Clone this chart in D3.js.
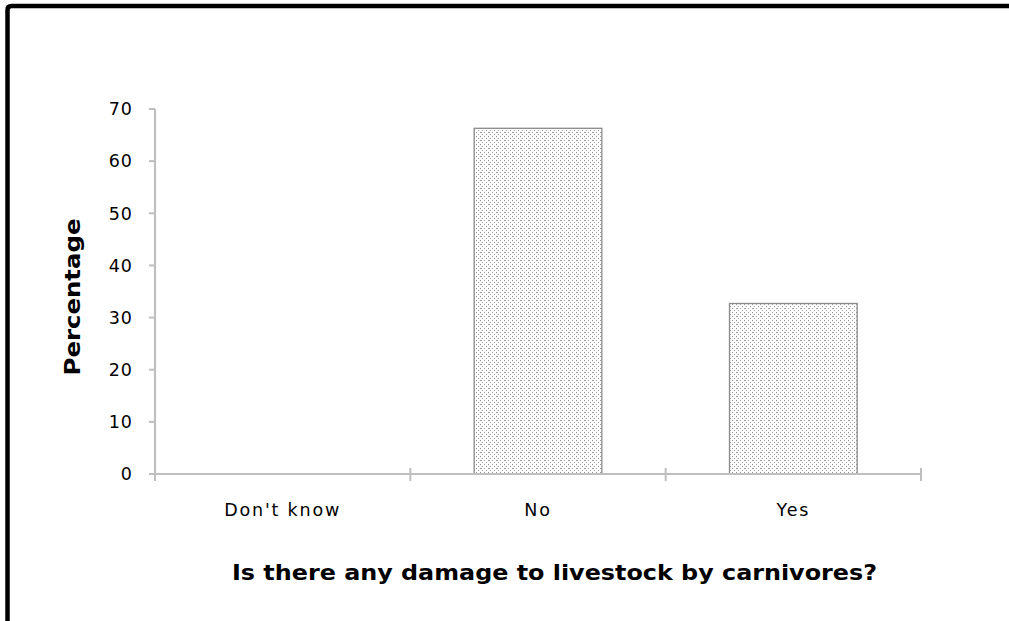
<!DOCTYPE html>
<html>
<head>
<meta charset="utf-8">
<script src="https://cdn.jsdelivr.net/npm/d3@7"></script>
<style>
  html, body { margin: 0; padding: 0; background: #fff; }
  svg { display: block; }
</style>
</head>
<body>
<svg id="chart" width="1009" height="621"></svg>
<script>
// Survey responses
const categories = ["Don't know", "No", "Yes"];
const percentages = [0, 66.3, 32.7];
const yTicks = [0, 10, 20, 30, 40, 50, 60, 70];
const xTitle = "Is there any damage to livestock by carnivores?";
const yTitle = "Percentage";

const svg = d3.select("#chart");
const axisColor = "#bfbfbf";
const font = "DejaVu Sans, Verdana, sans-serif";

// Outer frame: heavy black line along the top and left edges
svg.append("path")
  .attr("d", "M7.5,625 L7.5,10 Q7.5,6 11.5,6 L1020,6")
  .attr("fill", "none")
  .attr("stroke", "#000")
  .attr("stroke-width", 4.5);

// Stipple fill for the bars
const defs = svg.append("defs");
const pat = defs.append("pattern")
  .attr("id", "stipple")
  .attr("patternUnits", "userSpaceOnUse")
  .attr("width", 8).attr("height", 8);
pat.append("rect").attr("width", 8).attr("height", 8).attr("fill", "#fff");
const dots = [[0,0],[4,0],[2,2],[6,2],[0,4],[1,4],[4,4],[6,6],[2,6]];
dots.forEach(([dx, dy]) => {
  pat.append("rect").attr("x", dx).attr("y", dy).attr("width", 1).attr("height", 1).attr("fill", "#999");
});

const x = d3.scaleBand()
  .domain(categories)
  .range([155, 921])
  .paddingInner(0.5)
  .paddingOuter(0.25);

const y = d3.scaleLinear()
  .domain([0, 70])
  .range([474, 109]);

// Bars
svg.selectAll("rect.bar")
  .data(categories.map((c, i) => ({ c, v: percentages[i] })).filter(d => d.v > 0))
  .join("rect")
  .attr("class", "bar")
  .attr("x", d => x(d.c))
  .attr("y", d => y(d.v))
  .attr("width", x.bandwidth())
  .attr("height", d => y(0) - y(d.v))
  .attr("fill", "url(#stipple)")
  .attr("stroke", "#8a8a8a")
  .attr("stroke-width", 1.3);

// Y axis
const yAxis = svg.append("g");
yAxis.append("line")
  .attr("x1", 155).attr("x2", 155)
  .attr("y1", y(70)).attr("y2", y(0))
  .attr("stroke", axisColor).attr("stroke-width", 2.2);
yAxis.selectAll("line.tick")
  .data(yTicks)
  .join("line")
  .attr("class", "tick")
  .attr("x1", 149).attr("x2", 155)
  .attr("y1", d => y(d)).attr("y2", d => y(d))
  .attr("stroke", axisColor).attr("stroke-width", 2);
yAxis.selectAll("text")
  .data(yTicks)
  .join("text")
  .attr("x", 133)
  .attr("y", d => y(d))
  .attr("dy", "0.36em")
  .attr("text-anchor", "end")
  .attr("font-family", font)
  .attr("font-size", 17.5)
  .attr("letter-spacing", 1)
  .attr("fill", "#000")
  .text(d => d);

// X axis
const step = x.step();
const bounds = [155].concat(categories.map(c => x(c) + x.bandwidth() + step * x.paddingInner() / 2));
const xAxis = svg.append("g");
xAxis.append("line")
  .attr("x1", 149).attr("x2", 921)
  .attr("y1", y(0)).attr("y2", y(0))
  .attr("stroke", axisColor).attr("stroke-width", 2.2);
xAxis.selectAll("line.tick")
  .data(bounds)
  .join("line")
  .attr("class", "tick")
  .attr("x1", d => d).attr("x2", d => d)
  .attr("y1", 468).attr("y2", 481)
  .attr("stroke", axisColor).attr("stroke-width", 2);
xAxis.selectAll("text")
  .data(categories)
  .join("text")
  .attr("x", d => x(d) + x.bandwidth() / 2)
  .attr("y", 516)
  .attr("text-anchor", "middle")
  .attr("font-family", font)
  .attr("font-size", 17.5)
  .attr("letter-spacing", 1.8)
  .attr("fill", "#000")
  .text(d => d);

// Axis titles
svg.append("text")
  .attr("x", 554.5)
  .attr("y", 580)
  .attr("text-anchor", "middle")
  .attr("font-family", font)
  .attr("font-weight", "bold")
  .attr("font-size", 21)
  .attr("textLength", 645)
  .attr("lengthAdjust", "spacingAndGlyphs")
  .attr("fill", "#000")
  .text(xTitle);

svg.append("text")
  .attr("transform", "translate(80,297) rotate(-90)")
  .attr("text-anchor", "middle")
  .attr("font-family", font)
  .attr("font-weight", "bold")
  .attr("font-size", 21)
  .attr("textLength", 157)
  .attr("lengthAdjust", "spacingAndGlyphs")
  .attr("fill", "#000")
  .text(yTitle);
</script>
</body>
</html>
